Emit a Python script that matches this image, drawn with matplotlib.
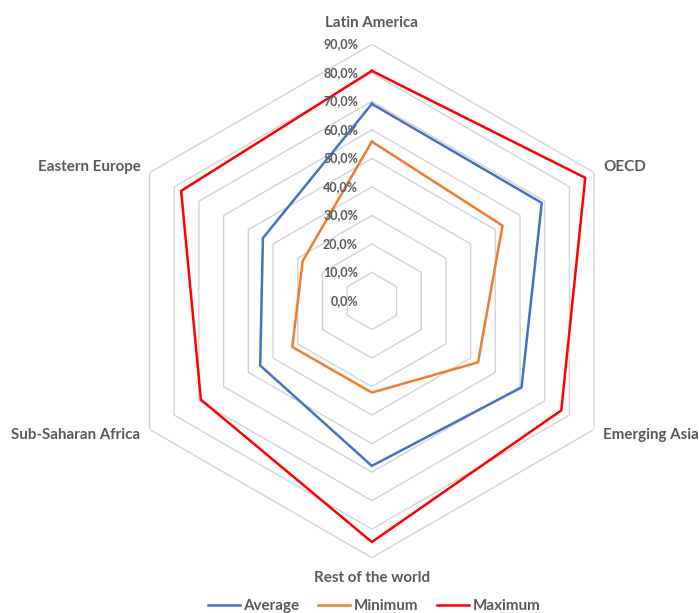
import numpy as np
import matplotlib
matplotlib.use("Agg")
import matplotlib.pyplot as plt

plt.rcParams['font.family'] = ['Lato', 'DejaVu Sans']

categories = ["Latin America", "OECD", "Emerging Asia", "Rest of the world",
              "Sub-Saharan Africa", "Eastern Europe"]
average = [69.1, 68.8, 60.6, 57.8, 45.2, 44.1]
minimum = [55.9, 52.9, 43.0, 32.1, 32.2, 28.0]
maximum = [80.7, 86.4, 76.7, 84.5, 69.2, 77.2]
ring_values = [0, 10, 20, 30, 40, 50, 60, 70, 80, 90]
ring_labels = ["0,0%", "10,0%", "20,0%", "30,0%", "40,0%", "50,0%",
               "60,0%", "70,0%", "80,0%", "90,0%"]

txt_col = "#595959"
grid_col = "#D4D4D4"

n = len(categories)
theta = np.linspace(0, 2 * np.pi, n, endpoint=False)
theta_c = np.append(theta, theta[0])

fig = plt.figure(figsize=(6.99, 6.13), dpi=100)
ax = fig.add_axes([0.1647, 0.0902, 0.7345, 0.8375], projection="polar")
ax.set_theta_offset(np.pi / 2)
ax.set_theta_direction(-1)
ax.set_ylim(0, 90)
ax.grid(False)
ax.spines["polar"].set_visible(False)
ax.set_xticks([])
ax.set_yticks([])
ax.patch.set_alpha(0)

# hexagonal grid rings
for rv in ring_values[1:]:
    ax.plot(theta_c, [rv] * (n + 1), color=grid_col, lw=1.0, zorder=1)

# series
for vals, col, lab in [(average, "#4472C4", "Average"),
                       (minimum, "#ED7D31", "Minimum"),
                       (maximum, "#FF0000", "Maximum")]:
    ax.plot(theta_c, vals + [vals[0]], color=col, lw=1.8, label=lab, zorder=3)

# ring value labels
for rv, lab in zip(ring_values, ring_labels):
    ax.annotate(lab, xy=(0, rv), xytext=(-10, 0), textcoords="offset points",
                ha="right", va="center", fontsize=9, color=txt_col,
                fontweight="bold")

# category labels
fs = 10.9
for t, cat in zip(theta, categories):
    deg = np.degrees(t) % 360
    if deg < 1:
        ax.text(t, 97.6, cat, ha="center", va="center", fontsize=fs,
                color=txt_col, fontweight="bold")
    elif abs(deg - 180) < 1:
        ax.text(t, 97.2, cat, ha="center", va="center", fontsize=fs,
                color=txt_col, fontweight="bold")
    elif deg < 180:
        ax.text(t, 93.7, cat, ha="left", va="center", fontsize=fs,
                color=txt_col, fontweight="bold")
    else:
        ax.text(t, 93.7, cat, ha="right", va="center", fontsize=fs,
                color=txt_col, fontweight="bold")

leg = fig.legend(loc="lower center", ncol=3, bbox_to_anchor=(0.535, -0.022),
                 frameon=False, handlelength=2.1, columnspacing=1.3,
                 handletextpad=0.2, prop={"size": 10.9, "weight": "bold"})
for t in leg.get_texts():
    t.set_color(txt_col)

fig.savefig("out.png", dpi=100)
